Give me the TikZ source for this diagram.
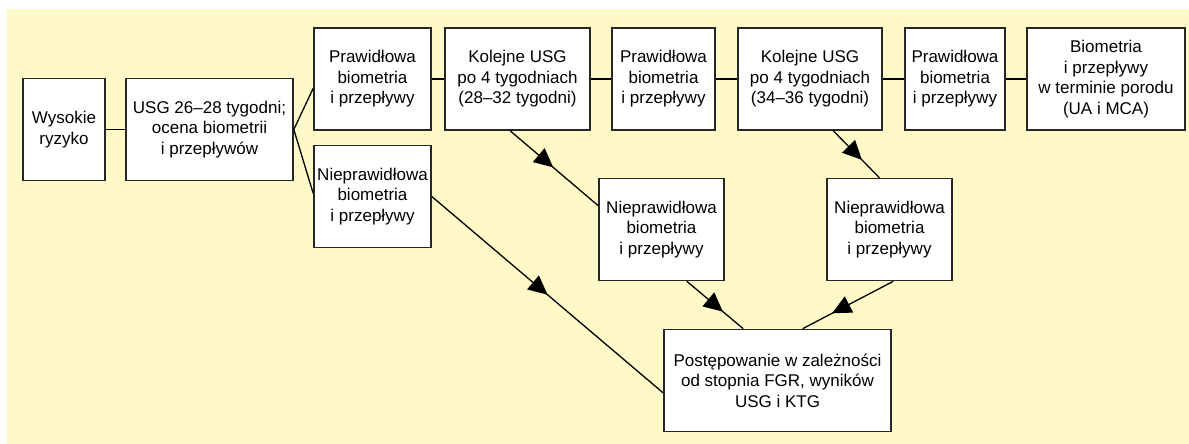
\documentclass[tikz,border=0pt]{standalone}
\usepackage{fontspec}
\setmainfont{Liberation Sans}
\usetikzlibrary{calc,arrows.meta,decorations.markings}
\definecolor{bgyellow}{RGB}{255,249,199}
\tikzset{every picture/.style={line width=0.75pt}}
\tikzset{
  box/.style={draw=black!85, line width=1.6pt, fill=white, align=center, inner sep=0pt,
    minimum height=102pt, font=\fontsize{17}{20.5}\selectfont},
  link/.style={draw=black, line width=1.3pt},
  arrowat/.style={postaction={decorate}, decoration={markings,
    mark=at position #1 with {\arrow{Triangle[length=19pt,width=18pt]}}}}
}

\begin{document}
\begin{tikzpicture}[x=1pt,y=1pt,yscale=-1,xscale=1]
\useasboundingbox (0,0) rectangle (1189,444);
%Shape: Rectangle (background)
\fill [bgyellow] (7,9) rectangle (1189,444);

% Text Node
\node [box, minimum width=82pt] (wys) at (64,129.5) {Wysokie\\ryzyko};
% Text Node
\node [box, minimum width=167pt] (usg) at (209.5,129.5) {USG 26–28 tygodni;\\ocena biometrii\\i przepływów};
% Text Node
\node [box, minimum width=117pt] (p1) at (372.5,79) {Prawidłowa\\biometria\\i przepływy};
% Text Node
\node [box, minimum width=117pt] (n1) at (372.5,196.5) {Nieprawidłowa\\biometria\\i przepływy};
% Text Node
\node [box, minimum width=145pt] (k1) at (517.5,79) {Kolejne USG\\po 4 tygodniach\\(28–32 tygodni)};
% Text Node
\node [box, minimum width=103pt] (p2) at (663.5,79) {Prawidłowa\\biometria\\i przepływy};
% Text Node
\node [box, minimum width=144pt] (k2) at (810,79) {Kolejne USG\\po 4 tygodniach\\(34–36 tygodni)};
% Text Node
\node [box, minimum width=100pt] (p3) at (955,79) {Prawidłowa\\biometria\\i przepływy};
% Text Node
\node [box, minimum width=158pt] (bio) at (1106,79) {Biometria\\i przepływy\\w terminie porodu\\(UA i MCA)};
% Text Node
\node [box, minimum width=125pt] (n2) at (661.5,229.5) {Nieprawidłowa\\biometria\\i przepływy};
% Text Node
\node [box, minimum width=125pt] (n3) at (889.5,229.5) {Nieprawidłowa\\biometria\\i przepływy};
% Text Node
\node [box, minimum width=227pt] (post) at (777.5,380.5) {Postępowanie w zależności\\od stopnia FGR, wyników\\USG i KTG};

%Straight Lines
\draw [link] (wys.east) -- (usg.west);
\draw [link] (usg.east) -- ($(p1.north west)!0.59!(p1.south west)$);
\draw [link] (usg.east) -- ($(n1.north west)!0.47!(n1.south west)$);
\draw [link] (p1.east) -- (k1.west);
\draw [link] (k1.east) -- (p2.west);
\draw [link] (p2.east) -- (k2.west);
\draw [link] (k2.east) -- (p3.west);
\draw [link] (p3.east) -- (bio.west);
%Straight Lines with arrows
\draw [link, arrowat=0.49] ($(k1.south west)!0.45!(k1.south east)$) -- ($(n2.north west)!0.27!(n2.south west)$);
\draw [link, arrowat=0.5] (n1.east) -- ($(post.north west)!0.62!(post.south west)$);
\draw [link, arrowat=0.64] ($(n2.south west)!0.7!(n2.south east)$) -- ($(post.north west)!0.35!(post.north east)$);
\draw [link, arrowat=0.62] ($(k2.south west)!0.66!(k2.south east)$) -- ($(n3.north west)!0.42!(n3.north east)$);
\draw [link, arrowat=0.675] ($(n3.south west)!0.53!(n3.south east)$) -- ($(post.north west)!0.61!(post.north east)$);
\end{tikzpicture}
\end{document}
